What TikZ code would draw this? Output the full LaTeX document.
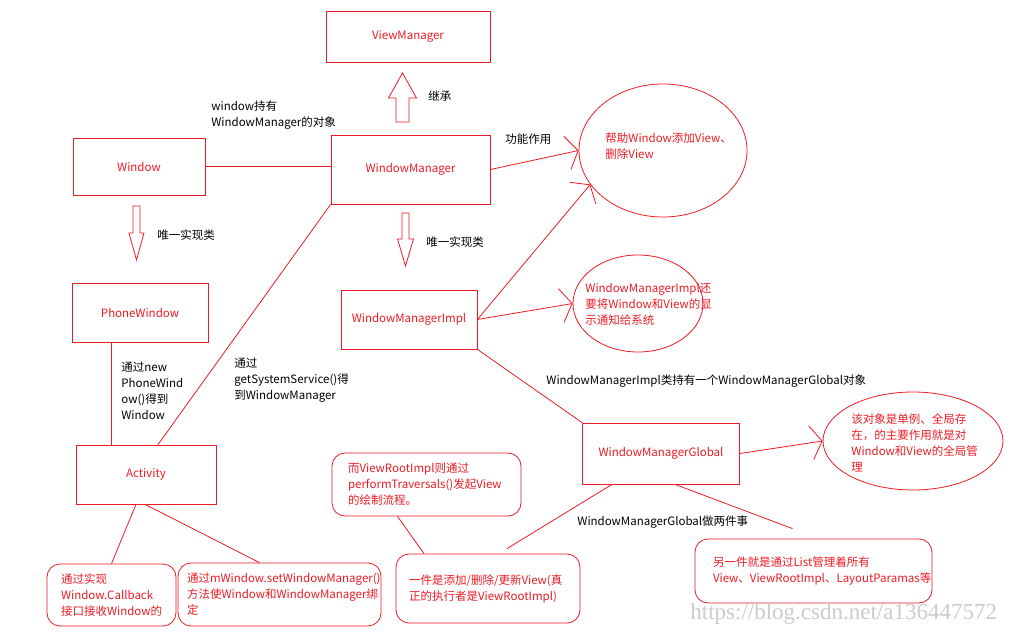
\documentclass[tikz,border=0pt]{standalone}
\usepackage{fontspec}
\setmainfont{Noto Sans CJK SC}
\newfontfamily\urlfont{Liberation Serif}
\usepackage{tikz}
\usetikzlibrary{calc}
\usetikzlibrary{arrows.meta}
\usetikzlibrary{shapes.geometric}
\definecolor{pred}{RGB}{237,28,36}

\begin{document}
\begin{tikzpicture}[x=1pt,y=-1pt,font=\fontsize{11.5}{16}\selectfont,line width=0.8pt,
    box/.style={draw=pred,text=pred,inner sep=0pt},
    note/.style={draw=pred,text=pred,rounded corners=13pt,align=left,inner ysep=0pt,inner xsep=#1},
    bubble/.style={ellipse,draw=pred,inner sep=0pt},
    redtxt/.style={text=pred,align=left,anchor=west,inner sep=0pt},
    blacktxt/.style={align=left,anchor=west,inner sep=0pt},
    link/.style={draw=pred},
    barb/.style={draw=pred,-{Straight Barb[length=11pt,width=34pt]}},
    hollow/.style={draw=pred,line join=miter}]
            \path[fill=white,use as bounding box] (0,0) rectangle (1021,634);
            \node[box,minimum width=164pt,minimum height=51pt] (vm) at (408,36.5) {ViewManager};
            \node[box,minimum width=132pt,minimum height=57pt] (win) at (139,166.5) {Window};
            \node[box,minimum width=159pt,minimum height=69pt] (wm) at (410.5,169.5) {WindowManager};
            \node[box,minimum width=136pt,minimum height=59pt] (pw) at (140,312.5) {PhoneWindow};
            \node[box,minimum width=136pt,minimum height=59pt] (wmi) at (409,319.5) {WindowManagerImpl};
            \node[box,minimum width=140pt,minimum height=59pt] (act) at (146,474.5) {Activity};
            \node[box,minimum width=157pt,minimum height=61pt] (wmg) at (661,453.5) {WindowManagerGlobal};
            \node[note=14pt,text width=101pt,minimum height=62pt] (cb) at (111.5,595) {通过实现\\Window.Callback\\接口接收Window的};
            \node[note=9pt,text width=185pt,minimum height=63pt] (setwm) at (279.5,594.5) {通过mWindow.setWindowManager()\\方法使Window和WindowManager绑\\定};
            \node[note=16pt,text width=157pt,minimum height=63pt] (vri) at (426.5,484.5) {而ViewRootImpl则通过\\performTraversals()发起View\\的绘制流程。};
            \node[note=13pt,text width=158pt,minimum height=69pt] (upd) at (488,588.5) {一件是添加/删除/更新View(真\\正的执行者是ViewRootImpl)};
            \node[note=18pt,text width=201pt,minimum height=64pt] (lst) at (813.5,571) {另一件就是通过List管理着所有\\View、ViewRootImpl、LayoutParamas等};
            \node[bubble,minimum width=168pt,minimum height=133pt] (help) at (663,150.5) {};
            \node[bubble,minimum width=130pt,minimum height=97pt] (notify) at (638,303.5) {};
            \node[bubble,minimum width=180pt,minimum height=98pt] (glob) at (913,441) {};
            \node[redtxt] (helptxt) at (605,146) {帮助Window添加View、\\删除View};
            \node[redtxt] (notifytxt) at (585,304) {WindowManagerImpl还\\要将Window和View的显\\示通知给系统};
            \node[redtxt] (globtxt) at (851,443) {该对象是单例、全局存\\在，的主要作用就是对\\Window和View的全局管\\理};
            \node[blacktxt] (inherit) at (428,96) {继承};
            \node[blacktxt] (holds) at (211,115) {window持有\\WindowManager的对象};
            \node[blacktxt] (func) at (505,139) {功能作用};
            \node[blacktxt] (only1) at (157,235) {唯一实现类};
            \node[blacktxt] (only2) at (426,242) {唯一实现类};
            \node[blacktxt] (newpw) at (121,391) {通过new\\PhoneWind\\ow()得到\\Window};
            \node[blacktxt] (getsys) at (234,380) {通过\\getSystemService()得\\到WindowManager};
            \node[blacktxt] (implhas) at (546,381) {WindowManagerImpl类持有一个WindowManagerGlobal对象};
            \node[blacktxt] (two) at (577,522) {WindowManagerGlobal做两件事};
            \node[anchor=west,inner sep=0pt,text=black!20,font=\urlfont\fontsize{23}{23}\selectfont] (mark) at (690,614) {https://blog.csdn.net/a136447572};
            \foreach \ax/\ay/\len/\sl/\sw/\hw/\dir in {402.5/122/49/24/6.5/14/-1, 136.5/206/54/27/3.5/7.5/1, 405.5/213/53/26/3.5/8/1} {
                \draw[hollow] ({\ax-\sw},\ay) -- ({\ax-\sw},{\ay+\dir*\sl}) -- ({\ax-\hw},{\ay+\dir*\sl}) -- (\ax,{\ay+\dir*\len})
                    -- ({\ax+\hw},{\ay+\dir*\sl}) -- ({\ax+\sw},{\ay+\dir*\sl}) -- ({\ax+\sw},\ay) -- cycle;
            }
            \draw[link] (win.east) -- (wm.west |- win.east);
            \draw[link] (wm.south west) -- ($(act.north)+(12,0)$);
            \draw[link] ($(pw.south)+(-29,0)$) coordinate (pwl) -- (pwl |- act.north);
            \draw[barb] (wm.east) -- (help.west);
            \draw[barb] (wmi.east) -- (help.205);
            \draw[barb] (wmi.east) -- (notify.west);
            \draw[link] (wmi.south east) -- (wmg.north west);
            \draw[barb] (wmg.east) -- (glob.west);
            \draw[link] ($(wmg.south)+(-49,0)$) -- ($(upd.north)+(19,-5)$);
            \draw[link] ($(wmg.south)+(14,0)$) -- ($(lst.north)+(-21,-10)$);
            \draw[link] ($(vri.south)+(-29,0)$) -- ($(upd.north)+(-64,0)$);
            \draw[link] ($(act.south)+(-10,0)$) -- (cb.north);
            \draw[link] ($(act.south)+(-1,0)$) -- ($(setwm.north)+(-20,0)$);
        \end{tikzpicture}
\end{document}
